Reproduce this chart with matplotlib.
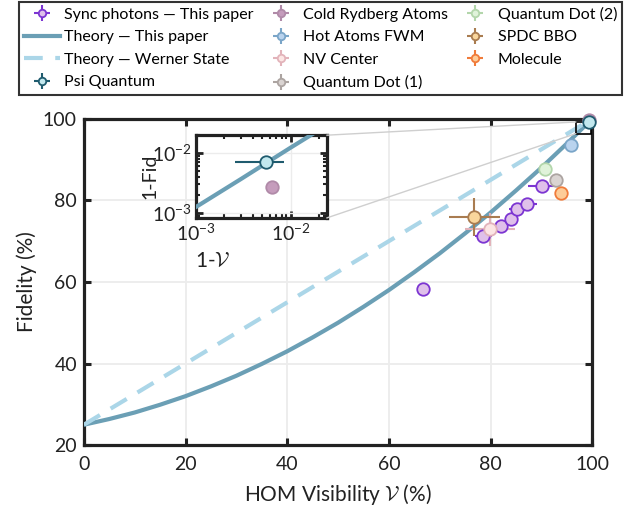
import numpy as np
import matplotlib
matplotlib.use('Agg')
import matplotlib.pyplot as plt
from matplotlib.patches import Rectangle, ConnectionPatch
from matplotlib.ticker import FuncFormatter

plt.rcParams['font.family'] = ['Lato', 'DejaVu Sans']
plt.rcParams['mathtext.fontset'] = 'cm'

# theory curves
theory_v = [0, 5, 10, 15, 20, 25, 30, 35, 40, 45, 50,
            55, 60, 65, 70, 75, 80, 85, 90, 95, 100]
theory_f = [25, 26.4, 28, 29.9, 32, 34.4, 37, 39.9, 43, 46.4, 50,
            53.9, 58, 62.4, 67, 71.9, 77, 82.4, 88, 93.9, 100]
werner_v = [0, 100]
werner_f = [25, 100]

# this paper
sync_v = [66.7, 78.6, 82.1, 84.1, 85.3, 87.1, 90.2]
sync_f = [58.2, 71.2, 73.7, 75.4, 77.8, 79.2, 83.5]
sync_xerr = [0.8, 1.6, 1.2, 1.2, 1.6, 2.0, 2.8]
sync_yerr = [0.4, 0.5, 0.5, 0.5, 0.5, 0.5, 0.5]

# other platforms: name, V, F, xerr, yerr, face, edge
others = [
    ('Psi Quantum',        99.3, 99.2, 0.29, 0.1, '#c2e8ee', '#1f5b6e'),
    ('Cold Rydberg Atoms', 99.36, 99.73, 0.1, 0.05, '#c59cbc', '#b08aa8'),
    ('Hot Atoms FWM',      95.8, 93.5, 0.3, 0.3, '#b9d3ee', '#7aa5c8'),
    ('NV Center',          79.9, 72.9, 4.9, 4.0, '#fce6e4', '#e2b3ba'),
    ('Quantum Dot (1)',    92.8, 84.9, 0.3, 0.3, '#dad4d2', '#aca4a1'),
    ('Quantum Dot (2)',    90.7, 87.6, 0.3, 0.3, '#e0f3da', '#b3d6ab'),
    ('SPDC BBO',           76.8, 75.9, 5.0, 4.7, '#f9d69c', '#a97c50'),
    ('Molecule',           93.8, 81.9, 0.2, 0.2, '#fdcc98', '#f07b3a'),
]
zorders = {'Psi Quantum': 8, 'Cold Rydberg Atoms': 7}

# inset (log-log) values
inset_theory_x = [0.001, 0.003, 0.01, 0.02, 0.03]
inset_theory_y = [0.00125, 0.0037, 0.0124, 0.0245, 0.036]
inset_psi = (0.0055, 0.0071, 0.0029)
inset_ryd = (0.0064, 0.0027)

fig = plt.figure(figsize=(6.26, 5.14), dpi=100)
ax = fig.add_axes([0.134, 0.134, 0.812, 0.635])

ms = 9
mew = 1.3
ax.plot(theory_v, theory_f, color='#6b9fb5', lw=3, zorder=3,
        label='Theory — This paper')
ax.plot(werner_v, werner_f, color='#abd6e8', lw=3, dashes=(4.5, 3),
        zorder=4, label='Theory — Werner State')

handles = {}
handles['sync'] = ax.errorbar(sync_v, sync_f, xerr=sync_xerr, yerr=sync_yerr,
                              fmt='o', ms=ms, mfc='#dfc0ea', mec='#7c35d2',
                              mew=mew, ecolor='#7c35d2', elinewidth=1.5,
                              zorder=6, label='Sync photons — This paper')
for name, v, f, xe, ye, fc, ec in others:
    h = ax.errorbar([v], [f], xerr=[xe], yerr=[ye], fmt='o', ms=ms, mfc=fc,
                    mec=ec, mew=mew, ecolor=ec, elinewidth=1.5,
                    zorder=zorders.get(name, 6), label=name)
    for art in h.get_children():
        art.set_clip_on(False)
    handles[name] = h

ax.set_xlim(0, 100)
ax.set_ylim(20, 100)
ax.set_xticks([0, 20, 40, 60, 80, 100])
ax.set_yticks([20, 40, 60, 80, 100])
ax.grid(True, color='#ececec', lw=1.3)
ax.set_axisbelow(True)
ax.tick_params(direction='in', length=5, width=2.2, labelsize=14,
               top=True, right=True, colors='#222222', labelcolor='#222222')
ax.tick_params(axis='x', pad=8)
ax.tick_params(axis='y', pad=5)
for s in ax.spines.values():
    s.set_linewidth(2.3)
    s.set_color('#222222')
ax.set_xlabel(r'HOM Visibility $\mathcal{V}$ (%)', fontsize=15,
              color='#222222', labelpad=6)
ax.set_ylabel('Fidelity (%)', fontsize=15, color='#222222')

# zoom box
ax.add_patch(Rectangle((96.8, 96.35), 3.0, 2.85, fill=False, ec='black',
                       lw=1.2, zorder=7))

# inset
axi = fig.add_axes([0.313, 0.576, 0.209, 0.161])
axi.plot(inset_theory_x, inset_theory_y, color='#6b9fb5', lw=3, zorder=3)
axi.errorbar([inset_psi[0]], [inset_psi[1]], xerr=[inset_psi[2]], fmt='o',
             ms=ms, mfc='#c2e8ee', mec='#1f5b6e', mew=mew, ecolor='#1f5b6e',
             elinewidth=1.5, zorder=5)
axi.plot([inset_ryd[0]], [inset_ryd[1]], 'o', ms=ms, mfc='#c59cbc',
         mec='#b08aa8', mew=mew, zorder=5)
axi.set_xscale('log')
axi.set_yscale('log')
axi.set_xlim(1e-3, 2.4e-2)
axi.set_ylim(8.2e-4, 2e-2)
axi.set_xticks([1e-3, 1e-2])
axi.set_yticks([1e-3, 1e-2])
log_fmt = FuncFormatter(
    lambda v, p: r'$\mathregular{10^{%d}}$' % int(round(np.log10(v))))
axi.xaxis.set_major_formatter(log_fmt)
axi.yaxis.set_major_formatter(log_fmt)
axi.grid(True, which='major', color='#ececec', lw=1.0)
axi.tick_params(which='both', direction='in', top=True, right=True,
                colors='#222222', labelcolor='#222222')
axi.tick_params(which='major', length=5, width=2, labelsize=14, pad=3)
axi.tick_params(which='minor', length=3, width=1.5)
for s in axi.spines.values():
    s.set_linewidth(2.3)
    s.set_color('#222222')
axi.set_xlabel(r'1-$\mathcal{V}$', fontsize=15, color='#222222')
axi.set_ylabel('1-Fid', fontsize=14, color='#222222')
axi.xaxis.set_label_coords(0.13, -0.40)
axi.yaxis.set_label_coords(-0.29, 0.5)

for xy_in, xy_main in [((1, 1), (96.8, 99.2)), ((1, 0), (96.8, 96.35))]:
    con = ConnectionPatch(xyA=xy_in, coordsA=axi.transAxes, xyB=xy_main,
                          coordsB=ax.transData, color='#cfcfcf', lw=1.0,
                          zorder=1)
    fig.add_artist(con)

order = ['sync', None, None, 'Psi Quantum', 'Cold Rydberg Atoms',
         'Hot Atoms FWM', 'NV Center', 'Quantum Dot (1)', 'Quantum Dot (2)',
         'SPDC BBO', 'Molecule']
line_handles = ax.get_lines()[:2]
hl = [handles[key] if key else None for key in order]
hl[1] = line_handles[0]
hl[2] = line_handles[1]
labels = [h.get_label() for h in hl]
leg = fig.legend(hl, labels, ncol=3, loc='lower left',
                 bbox_to_anchor=(0.03, 1 - 95 / 514), fontsize=11.5,
                 frameon=True, fancybox=False, edgecolor='black',
                 markerscale=0.6, handlelength=2.3, handletextpad=0.25,
                 columnspacing=0.55, labelspacing=0.52, borderpad=0.3,
                 borderaxespad=0)
leg.get_frame().set_linewidth(1.5)

fig.savefig('out.png', dpi=100)
